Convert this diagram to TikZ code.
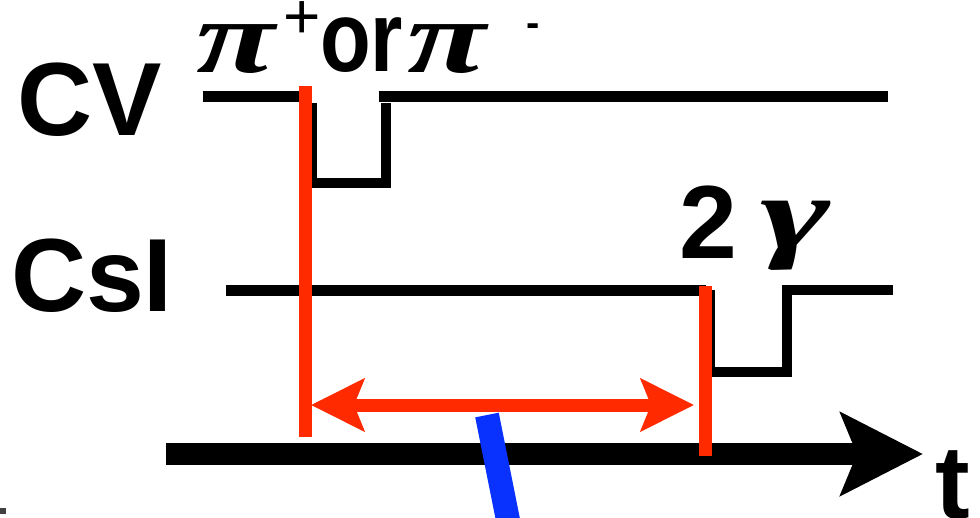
\documentclass[tikz,border=0pt]{standalone}
\usepackage{fontspec}
\setmainfont{Liberation Sans}
\newfontfamily\lblfont{Liberation Sans Bold}
\newfontfamily\grkfont{Liberation Serif Bold Italic}
\usetikzlibrary{arrows.meta}
\definecolor{sigred}{HTML}{FF2A00}
\definecolor{sigblue}{HTML}{0A32FF}
\tikzset{
  lbl/.style={inner sep=0pt, outer sep=0pt, anchor=base west, font=\lblfont\fontsize{104}{104}\selectfont},
  grk/.style={inner sep=0pt, outer sep=0pt, anchor=base west, font=\grkfont\fontsize{120}{120}\selectfont},
  sig/.style={line width=11pt, black, line cap=butt, line join=miter},
  redbar/.style={line width=13pt, sigred},
}
\begin{document}
\begin{tikzpicture}[x=1pt,y=-1pt]
\useasboundingbox (0,0) rectangle (980,517);
\clip (0,0) rectangle (980,517);
% labels
\node[lbl] (cv) at (17,135) {CV};
\node[lbl] (csl) at (11,311) {CsI};
\node[lbl] (t) at (935,518) {t};
\node[grk] (pi1) at (196,72) {\scalebox{1.2}[0.87]{π}};
\node[lbl, anchor=center, font=\fontsize{64}{64}\selectfont] (plus) at (302,20) {+};
\node[lbl, font=\lblfont\fontsize{100}{100}\selectfont] (or) at (320,71) {\scalebox{0.83}[1]{or}};
\node[grk] (pi2) at (407,72) {\scalebox{1.2}[0.87]{π}};
\node[lbl, anchor=center, font=\lblfont\fontsize{40}{40}\selectfont] (minus) at (533,30) {-};
\node[lbl] (two) at (679,258) {2};
\node[grk] (gam) at (760,248) {\scalebox{1.41}[0.86]{γ}};
% CV signal
\coordinate (cva) at (203,96.5);
\coordinate (cvb) at (306,96.5);
\coordinate (cvc) at (379,96.5);
\coordinate (cvd) at (888,96.5);
\coordinate (cvp1) at (312,103);
\coordinate (cvp2) at (312,182.5);
\coordinate (cvp3) at (386,182.5);
\coordinate (cvp4) at (386,103);
\draw[sig] (cva) -- (cvb);
\draw[sig] (cvc) -- (cvd);
\draw[sig, line width=10pt] (cvp1) -- (cvp2) -- (cvp3) -- (cvp4);
% CsI signal
\coordinate (csa) at (226,290);
\coordinate (csb) at (706,290);
\coordinate (csp1) at (710,290);
\coordinate (csp2) at (710,372);
\coordinate (csp3) at (787,372);
\coordinate (csp4) at (787,290);
\coordinate (cse) at (893,290);
\draw[sig] (csa) -- (csb);
\draw[sig, line width=10pt] (csp1) -- (csp2) -- (csp3) -- (csp4) -- (cse);
% time axis
\coordinate (ax0) at (166,454);
\coordinate (ax1) at (923,454);
\draw[line width=22pt, black, -{Stealth[length=82pt, width=82pt, inset=16pt]}] (ax0) -- (ax1);
% blue line
\coordinate (bl0) at (487,415);
\coordinate (bl1) at (513,545);
\draw[line width=24pt, sigblue] (bl0) -- (bl1);
% red markers
\coordinate (r1t) at (305,86);
\coordinate (r1b) at (305,437);
\coordinate (r2t) at (705.5,286);
\coordinate (r2b) at (705.5,456);
\draw[redbar] (r1t) -- (r1b);
\draw[redbar] (r2t) -- (r2b);
\coordinate (ar0) at (311,405);
\coordinate (ar1) at (694,405);
\draw[redbar, {Stealth[length=53pt, width=52pt, inset=10pt]}-{Stealth[length=53pt, width=52pt, inset=10pt]}] (ar0) -- (ar1);
% small mark
\fill[black!75] (0,508) rectangle (6,514);
\end{tikzpicture}
\end{document}
